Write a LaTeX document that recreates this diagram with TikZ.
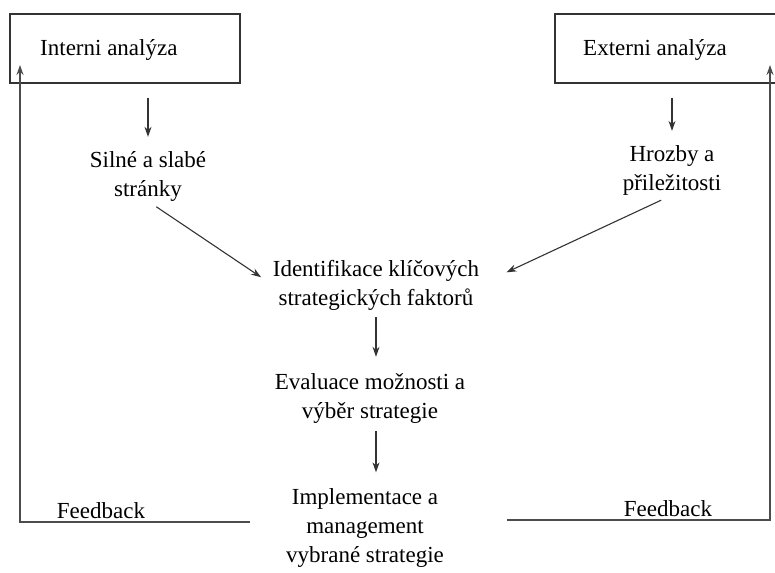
\documentclass[tikz,border=0pt]{standalone}
\usepackage{fontspec}
\setmainfont{Liberation Serif}
\usepackage{tikz}
\usetikzlibrary{positioning,arrows.meta}

\begin{document}
\begin{tikzpicture}[x=1pt,y=-1pt,>={Stealth[length=10pt,width=7pt]},
  every node/.style={font=\fontsize{23}{29}\selectfont},
  box/.style={draw=black!80,line width=1.4pt,minimum width=230,minimum height=69,inner sep=0pt},
  txt/.style={align=center,inner sep=0pt},
  gap/.style={->,draw=black!80,line width=1.1pt,shorten <=14pt,shorten >=14pt},
  fb/.style={->,draw=black!70,line width=1.4pt}]
\useasboundingbox (0,0) rectangle (775,572);
% analyzy
\node[box] (intbox) at (125,48.5) {};
\node[anchor=west,inner sep=0pt] (inttxt) at (40,50) {Interni analýza};
\node[box] (extbox) at (670,48.5) {};
\node[anchor=west,inner sep=0pt] (exttxt) at (583,50) {Externi analýza};
% faktory
\node[txt] (silne) at (148,176) {Silné a slabé\\stránky};
\node[txt] (hrozby) at (672,170) {Hrozby a\\přiležitosti};
\node[txt] (ident) at (376,285) {Identifikace klíčových\\strategických faktorů};
\node[txt] (eval) at (370,398) {Evaluace možnosti a\\výběr strategie};
\node[txt] (impl) at (365,528) {Implementace a\\management\\vybrané strategie};
\draw[gap] (intbox.south -| silne.north) -- (silne.north);
\draw[gap] (extbox.south -| hrozby.north) -- (hrozby.north);
\draw[gap,shorten <=10pt,shorten >=14pt] (silne.south) -- (ident.west);
\draw[gap,shorten <=12pt,shorten >=30pt] (hrozby.south) -- (ident.east);
\draw[gap,shorten <=7pt,shorten >=16pt] (ident.south) -- (ident.south |- eval.north);
\draw[gap,shorten <=8pt,shorten >=16pt] (ident.south |- eval.south) -- (ident.south |- impl.north);
% feedback
\coordinate (fbL) at (250,522);
\coordinate (intL) at (20,65);
\coordinate (fbR) at (507,520);
\coordinate (extR) at (770,65);
\draw[fb] (fbL) -| (intL);
\draw[fb] (fbR) -| (extR);
\node[anchor=south,inner sep=0pt] (fbtxtL) at (101,519) {Feedback};
\node[anchor=south,inner sep=0pt] (fbtxtR) at (668,517) {Feedback};
\end{tikzpicture}
\end{document}
